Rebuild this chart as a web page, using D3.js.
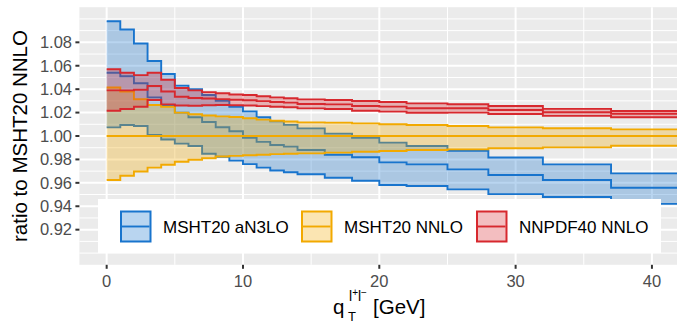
<!DOCTYPE html>
<html>
<head>
<meta charset="utf-8">
<script src="https://cdn.jsdelivr.net/npm/d3@7/dist/d3.min.js"></script>
<style>
  body { margin: 0; background: #fff; }
  text { font-family: "Liberation Sans", Arial, sans-serif; }
</style>
</head>
<body>
<script>
var width = 677, height = 324

// bin edges in qT (GeV)
var edges = [0,1,2,3,4,5,6,7,8,9,10,11,12,13,14,16,18,20,22,25,28,32,37,43]

// MSHT20 aN3LO
var an3lo_up  = [1.098,1.091,1.079,1.064,1.053,1.043,1.040,1.035,1.030,1.025,1.021,1.016,1.0125,1.0095,1.0065,1.0020,0.9985,0.9943,0.9915,0.9873,0.9816,0.9758,0.9681]
var an3lo_mid = [1.054,1.051,1.045,1.033,1.026,1.020,1.016,1.012,1.0075,1.004,0.9985,0.9950,0.9923,0.9909,0.9880,0.9840,0.9818,0.9775,0.9758,0.9715,0.9667,0.9624,0.9558]
var an3lo_lo  = [1.0074,1.0094,1.0085,1.0010,0.9970,0.9935,0.9915,0.9848,0.9823,0.9790,0.9760,0.9730,0.9705,0.9690,0.9673,0.9644,0.9618,0.9581,0.9573,0.9544,0.9504,0.9479,0.9420]

// MSHT20 NNLO
var nnlo_up  = [1.0414,1.0379,1.0314,1.0265,1.0250,1.0200,1.0186,1.0175,1.0168,1.0162,1.0152,1.0140,1.0130,1.0124,1.0116,1.0114,1.0108,1.0100,1.0094,1.0085,1.0074,1.0066,1.0057]
var nnlo_mid = [1.000,1.000,1.000,1.000,1.000,1.000,1.000,1.000,1.000,1.000,1.000,1.000,1.000,1.000,1.000,1.000,1.000,1.000,1.000,1.000,1.000,1.000,1.000]
var nnlo_lo  = [0.9624,0.9661,0.9697,0.9730,0.9755,0.9780,0.9797,0.9810,0.9825,0.9830,0.9836,0.9840,0.9845,0.9848,0.9852,0.9858,0.9866,0.9872,0.9880,0.9886,0.9895,0.9903,0.9917]

// NNPDF40 NNLO
var nnpdf_up  = [1.057,1.054,1.052,1.054,1.048,1.041,1.039,1.0375,1.0365,1.0355,1.035,1.034,1.033,1.0322,1.0313,1.0308,1.0299,1.0291,1.0279,1.0271,1.0256,1.0232,1.0214]
var nnpdf_mid = [1.039,1.039,1.0395,1.0427,1.038,1.0335,1.0325,1.032,1.0315,1.031,1.0305,1.0298,1.029,1.0285,1.0273,1.0270,1.0256,1.0251,1.0237,1.0237,1.0222,1.0203,1.0190]
var nnpdf_lo  = [1.0216,1.0230,1.0250,1.0308,1.0270,1.0260,1.0258,1.0262,1.0265,1.0262,1.0260,1.0255,1.0250,1.0245,1.0236,1.0230,1.0216,1.0208,1.0199,1.0200,1.0188,1.0172,1.0160]

var names = ["MSHT20 aN3LO", "MSHT20 NNLO", "NNPDF40 NNLO"]
var colors = ["#1874CD", "#F2A900", "#D7282E"]

var xTicks = [0,10,20,30,40]
var xMinor = [5,15,25,35]
var yTicks = [0.92,0.94,0.96,0.98,1.00,1.02,1.04,1.06,1.08]
var yMinor = [0.90,0.91,0.93,0.95,0.97,0.99,1.01,1.03,1.05,1.07,1.09,1.10]

var series = [
  {name: names[0], color: colors[0], up: an3lo_up, mid: an3lo_mid, lo: an3lo_lo},
  {name: names[1], color: colors[1], up: nnlo_up, mid: nnlo_mid, lo: nnlo_lo},
  {name: names[2], color: colors[2], up: nnpdf_up, mid: nnpdf_mid, lo: nnpdf_lo}
]

var x = d3.scaleLinear().domain([-2, 42]).range([79.4, 679.2])
var y = d3.scaleLinear().domain([0.89, 1.11]).range([264.8, 7.2])

var svg = d3.select("body").append("svg")
    .attr("width", width)
    .attr("height", height)

svg.append("defs").append("clipPath").attr("id", "panel")
  .append("rect")
    .attr("x", x(-2)).attr("y", y(1.11))
    .attr("width", x(42) - x(-2)).attr("height", y(0.89) - y(1.11))

// PANEL
svg.append("rect")
    .attr("x", x(-2)).attr("y", y(1.11))
    .attr("width", x(42) - x(-2)).attr("height", y(0.89) - y(1.11))
    .attr("fill", "#EBEBEB")

var grid = svg.append("g")
grid.selectAll(".ymin").data(yMinor).enter().append("line")
    .attr("x1", x(-2)).attr("x2", x(42))
    .attr("y1", function(d) { return y(d) }).attr("y2", function(d) { return y(d) })
    .attr("stroke", "#fff").attr("stroke-width", 1)
grid.selectAll(".xmin").data(xMinor).enter().append("line")
    .attr("y1", y(0.89)).attr("y2", y(1.11))
    .attr("x1", function(d) { return x(d) }).attr("x2", function(d) { return x(d) })
    .attr("stroke", "#fff").attr("stroke-width", 1)
grid.selectAll(".ymaj").data(yTicks).enter().append("line")
    .attr("x1", x(-2)).attr("x2", x(42))
    .attr("y1", function(d) { return y(d) }).attr("y2", function(d) { return y(d) })
    .attr("stroke", "#fff").attr("stroke-width", 2)
grid.selectAll(".xmaj").data(xTicks).enter().append("line")
    .attr("y1", y(0.89)).attr("y2", y(1.11))
    .attr("x1", function(d) { return x(d) }).attr("x2", function(d) { return x(d) })
    .attr("stroke", "#fff").attr("stroke-width", 2)

// RIBBONS + STEP LINES
function pts(vals) {
  return edges.map(function(e, i) { return {x: e, v: vals[Math.min(i, vals.length - 1)]} })
}

var area = d3.area()
    .curve(d3.curveStepAfter)
    .x(function(d) { return x(d.x) })
    .y0(function(d) { return y(d.lo) })
    .y1(function(d) { return y(d.up) })

var line = d3.line()
    .curve(d3.curveStepAfter)
    .x(function(d) { return x(d.x) })
    .y(function(d) { return y(d.v) })

var plot = svg.append("g").attr("clip-path", "url(#panel)")

series.forEach(function(s) {
  var band = edges.map(function(e, i) {
    var k = Math.min(i, s.up.length - 1)
    return {x: e, up: s.up[k], lo: s.lo[k]}
  })
  plot.append("path")
      .attr("d", area(band))
      .attr("fill", s.color)
      .attr("fill-opacity", 0.3)
  ;[s.up, s.lo, s.mid].forEach(function(vals) {
    plot.append("path")
        .attr("d", line(pts(vals)))
        .attr("fill", "none")
        .attr("stroke", s.color)
        .attr("stroke-width", 1.9)
  })
})

// LEGEND
var leg = svg.append("g")
leg.append("rect")
    .attr("x", 98).attr("y", 199)
    .attr("width", 563).attr("height", 54)
    .attr("fill", "#fff")

var keyX = [120, 301, 476]
series.forEach(function(s, i) {
  leg.append("rect")
      .attr("x", keyX[i] + 1).attr("y", 211.5)
      .attr("width", 29.5).attr("height", 30)
      .attr("fill", s.color).attr("fill-opacity", 0.3)
      .attr("stroke", s.color).attr("stroke-width", 2)
  leg.append("line")
      .attr("x1", keyX[i] + 2).attr("x2", keyX[i] + 29.5)
      .attr("y1", 226.5).attr("y2", 226.5)
      .attr("stroke", s.color).attr("stroke-width", 1.9)
  leg.append("text")
      .text(s.name)
      .attr("x", keyX[i] + 43)
      .attr("y", 232.5)
      .attr("font-size", 17)
      .attr("fill", "#000")
})

// AXES
var axisG = svg.append("g")
axisG.selectAll(".xt").data(xTicks).enter().append("line")
    .attr("x1", function(d) { return x(d) }).attr("x2", function(d) { return x(d) })
    .attr("y1", y(0.89)).attr("y2", y(0.89) + 4)
    .attr("stroke", "#333").attr("stroke-width", 2)
axisG.selectAll(".xl").data(xTicks).enter().append("text")
    .text(function(d) { return d })
    .attr("x", function(d) { return x(d) })
    .attr("y", 286.5)
    .attr("text-anchor", "middle")
    .attr("font-size", 16.5)
    .attr("fill", "#4D4D4D")

axisG.selectAll(".yt").data(yTicks).enter().append("line")
    .attr("x1", x(-2) - 4).attr("x2", x(-2))
    .attr("y1", function(d) { return y(d) }).attr("y2", function(d) { return y(d) })
    .attr("stroke", "#333").attr("stroke-width", 2)
axisG.selectAll(".yl").data(yTicks).enter().append("text")
    .text(function(d) { return d3.format(".2f")(d) })
    .attr("x", 72)
    .attr("y", function(d) { return y(d) + 5.8 })
    .attr("text-anchor", "end")
    .attr("font-size", 16.5)
    .attr("fill", "#4D4D4D")

// AXIS TITLES
svg.append("text")
    .text("ratio to MSHT20 NNLO")
    .attr("transform", "translate(26.5," + ((y(0.89) + y(1.11)) / 2) + ") rotate(-90)")
    .attr("text-anchor", "middle")
    .attr("font-size", 20.5)
    .attr("fill", "#000")

var xt = svg.append("g")
xt.append("text").text("q").attr("x", 333).attr("y", 314).attr("font-size", 20.5)
xt.append("text").text("T").attr("x", 348).attr("y", 320.5).attr("font-size", 13)
var sup = xt.append("text").attr("x", 349).attr("y", 301).attr("font-size", 14)
sup.append("tspan").text("l")
sup.append("tspan").text("+").attr("font-size", 10).attr("dy", -5)
sup.append("tspan").text("l").attr("dy", 5)
sup.append("tspan").text("\u2212").attr("font-size", 10).attr("dy", -5)
xt.append("text").text("[GeV]").attr("x", 373).attr("y", 314).attr("font-size", 20.5)
</script>
</body>
</html>
